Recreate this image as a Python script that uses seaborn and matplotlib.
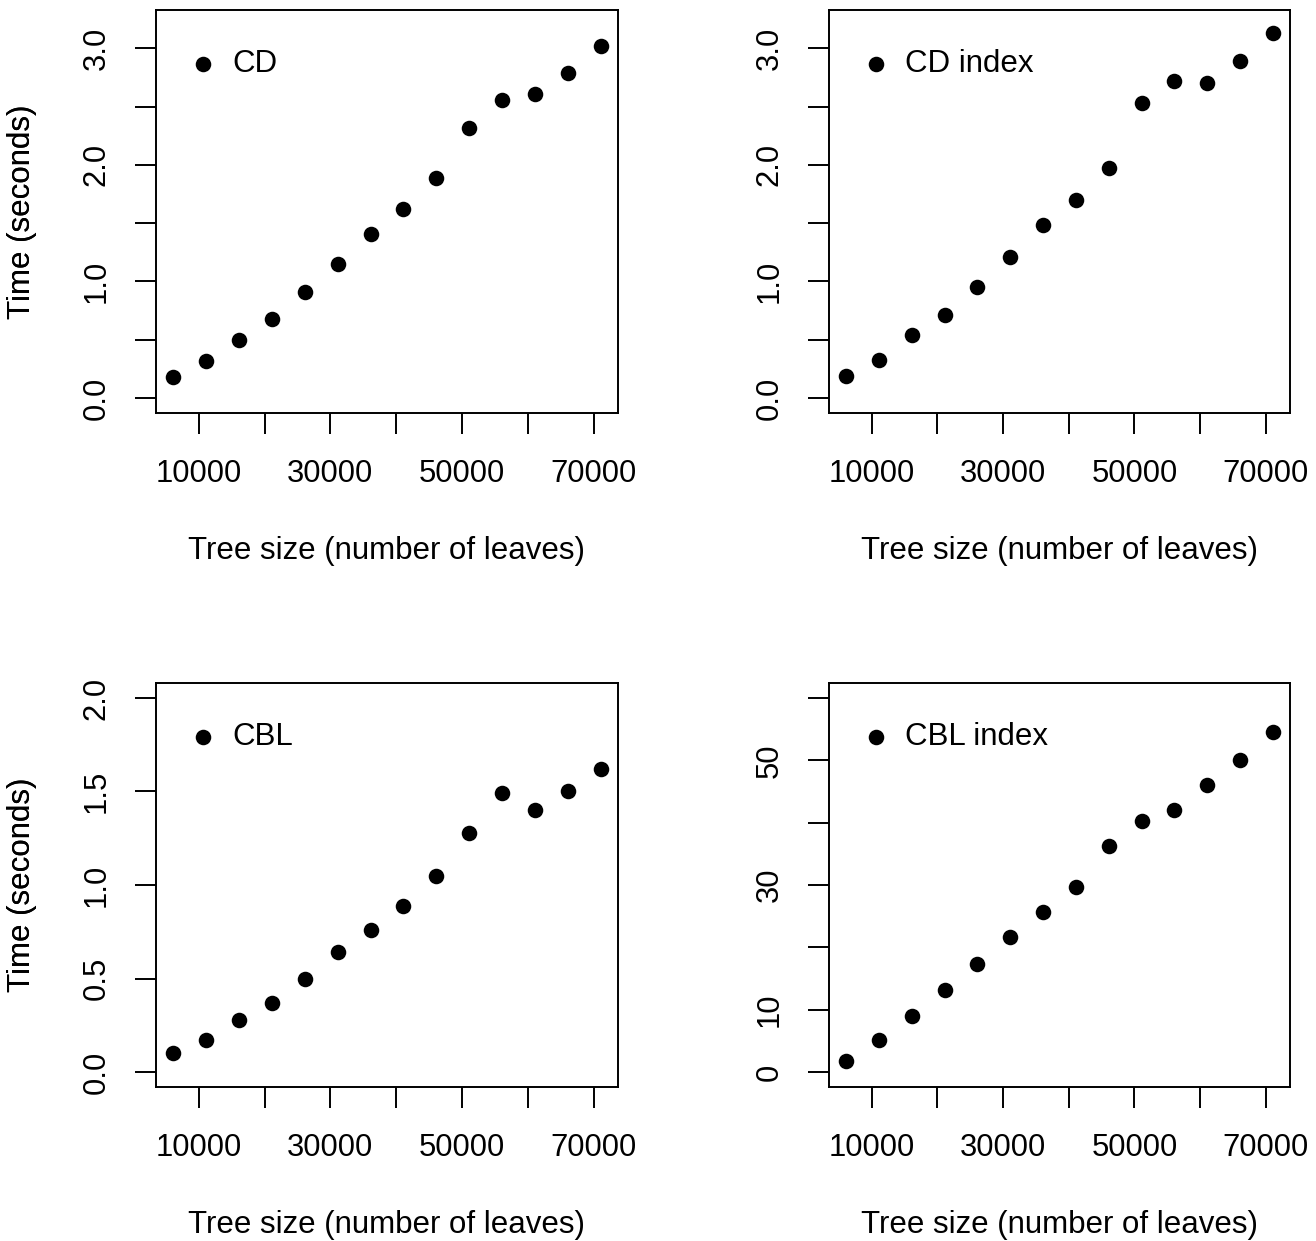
import matplotlib
matplotlib.use("Agg")
import matplotlib.pyplot as plt
import seaborn as sns

sns.set_style("ticks")
plt.rcParams["font.family"] = ["Liberation Sans", "DejaVu Sans"]
plt.rcParams["text.color"] = "black"
plt.rcParams["axes.labelcolor"] = "black"

# --- Data
tree_size = [6100, 11100, 16100, 21100, 26100, 31100, 36100,
             41100, 46100, 51100, 56100, 61100, 66100, 71100]

cd_time = [0.18, 0.32, 0.50, 0.68, 0.91, 1.15, 1.41,
           1.62, 1.89, 2.32, 2.56, 2.61, 2.79, 3.02]
cd_index_time = [0.19, 0.33, 0.54, 0.71, 0.95, 1.21, 1.48,
                 1.70, 1.97, 2.53, 2.72, 2.70, 2.89, 3.13]
cbl_time = [0.10, 0.17, 0.28, 0.37, 0.50, 0.64, 0.76,
            0.89, 1.05, 1.28, 1.49, 1.40, 1.50, 1.62]
cbl_index_time = [1.8, 5.1, 9.0, 13.1, 17.3, 21.6, 25.6,
                  29.6, 36.2, 40.2, 42.0, 46.0, 50.0, 54.5]

x_ticks = [10000, 20000, 30000, 40000, 50000, 60000, 70000]
x_labels = ["10000", "", "30000", "", "50000", "", "70000"]

panels = [
    ("CD", cd_time, (0, 3.2),
     [0, 0.5, 1.0, 1.5, 2.0, 2.5, 3.0],
     ["0.0", "", "1.0", "", "2.0", "", "3.0"]),
    ("CD index", cd_index_time, (0, 3.2),
     [0, 0.5, 1.0, 1.5, 2.0, 2.5, 3.0],
     ["0.0", "", "1.0", "", "2.0", "", "3.0"]),
    ("CBL", cbl_time, (0, 2.0),
     [0, 0.5, 1.0, 1.5, 2.0],
     ["0.0", "0.5", "1.0", "1.5", "2.0"]),
    ("CBL index", cbl_index_time, (0, 60),
     [0, 10, 20, 30, 40, 50, 60],
     ["0", "10", "", "30", "", "50", ""]),
]

W, H = 1316, 1241
# axes boxes in pixels: (left, top, right, bottom)
boxes = [(156, 10, 618, 413), (829, 10, 1290, 413),
         (156, 683, 618, 1087), (829, 683, 1290, 1087)]

FS = 22.5
TICK_FS = 22.3
fig = plt.figure(figsize=(W / 100, H / 100), dpi=100)

def r_lim(lo, hi):
    pad = 0.04 * (hi - lo)
    return lo - pad, hi + pad

for (name, yvals, ylim, yt, ytl), (l, t, r, b) in zip(panels, boxes):
    ax = fig.add_axes([l / W, 1 - b / H, (r - l) / W, (b - t) / H])
    sns.scatterplot(x=tree_size, y=yvals, ax=ax, color="black", s=125,
                    linewidth=0, label=name)
    ax.set_xlim(r_lim(min(tree_size), max(tree_size)))
    ax.set_ylim(r_lim(*ylim))
    ax.set_xticks(x_ticks)
    ax.set_xticklabels(x_labels)
    ax.set_yticks(yt)
    ax.set_yticklabels(ytl, rotation=90, va="center")
    ax.tick_params(axis="both", which="major", bottom=True, left=True,
                   direction="out", length=15, width=1.4,
                   color="black", labelsize=TICK_FS, labelcolor="black")
    ax.tick_params(axis="x", pad=18)
    ax.tick_params(axis="y", pad=17)
    for sp in ax.spines.values():
        sp.set_visible(True)
        sp.set_color("black")
        sp.set_linewidth(1.4)
    ax.set_xlabel("Tree size (number of leaves)", fontsize=FS)
    ax.set_ylabel("Time (seconds)", fontsize=FS)
    ax.xaxis.set_label_coords(0.5, -138 / (b - t))
    ax.xaxis.label.set_va("center")
    ax.yaxis.set_label_coords((22 - l) / (r - l), 0.5)
    ax.yaxis.label.set_va("center")
    ax.legend(loc="center left", bbox_to_anchor=(0.077, 0.866),
              frameon=False, fontsize=FS, borderpad=0, borderaxespad=0,
              handlelength=0.75, handletextpad=0.55, labelcolor="black")

fig.savefig("out.png", dpi=100, facecolor="white")
